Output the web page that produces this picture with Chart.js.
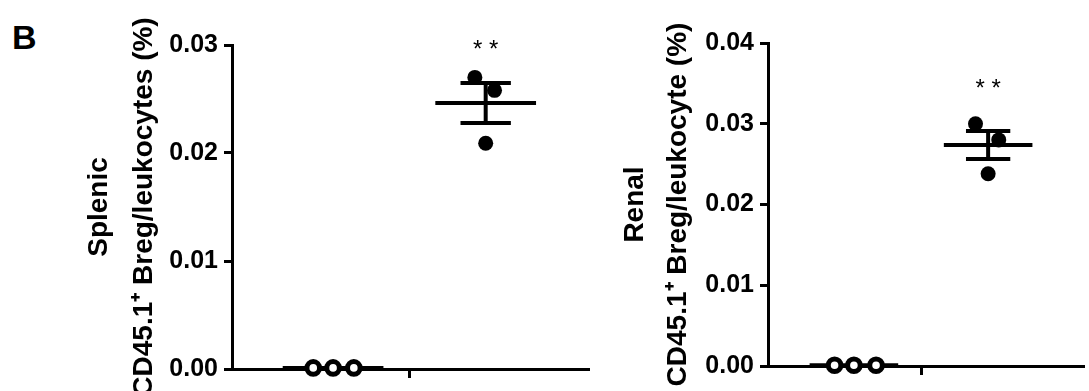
<!DOCTYPE html>
<html>
<head>
<meta charset="utf-8">
<script src="https://cdn.jsdelivr.net/npm/chart.js@4/dist/chart.umd.min.js"></script>
<style>
  html, body { margin: 0; padding: 0; background: #fff; width: 1089px; height: 391px; overflow: hidden; position: relative; }
  canvas { position: absolute; top: 0; }
  #panelLabel { position: absolute; left: 12px; top: 20px; font: bold 34px "Liberation Sans", Arial, sans-serif; line-height: 34px; color: #000; }
</style>
</head>
<body>
<div id="panelLabel">B</div>
<canvas id="spleen" width="600" height="391" style="left:0px"></canvas>
<canvas id="kidney" width="535" height="391" style="left:560px"></canvas>
<script>
// groups on the x axis (1 = control, open circles; 2 = CD45.1 transfer, filled)
const groups = [1, 2];
const xTicks = [1.5];

// Splenic panel
const spleenControl = [0.0001, 0.0001, 0.0001];
const spleenTransfer = [0.0270, 0.0258, 0.0209];
const spleenMean = [0.0001, 0.02463];
const spleenSem = [0, 0.00185];
const spleenJitter1 = [-0.13, 0, 0.136];
const spleenJitter2 = [-0.071, 0.058, 0];
const spleenTicks = [0, 0.01, 0.02, 0.03];
const spleenStar = 0.0299;

// Renal panel
const kidneyControl = [0.0001, 0.0001, 0.0001];
const kidneyTransfer = [0.0300, 0.0280, 0.0238];
const kidneyMean = [0.0001, 0.02737];
const kidneySem = [0, 0.00173];
const kidneyJitter1 = [-0.144, 0, 0.165];
const kidneyJitter2 = [-0.094, 0.079, 0];
const kidneyTicks = [0, 0.01, 0.02, 0.03, 0.04];
const kidneyStar = 0.0348;

const FONT = '"Liberation Sans", Arial, sans-serif';

const sigPlugin = {
  id: 'sig',
  afterDatasetsDraw(chart, args, opts) {
    const { ctx, scales: { x, y } } = chart;
    ctx.save();
    ctx.fillStyle = '#000';
    ctx.font = '24px ' + FONT;
    ctx.textAlign = 'center';
    ctx.textBaseline = 'middle';
    ctx.fillText(opts.text, x.getPixelForValue(opts.x), y.getPixelForValue(opts.y) + 4);
    ctx.restore();
  }
};

function lineSet(data) {
  return { data, showLine: true, borderColor: '#000', borderWidth: 4, pointRadius: 0, borderCapStyle: 'butt', spanGaps: false, clip: false };
}

function makeChart(id, cfg) {
  const gap = g => ({ x: g, y: null });
  const meanData = [];
  const bars = [];
  groups.forEach((g, i) => {
    meanData.push({ x: g - 0.33, y: cfg.mean[i] }, { x: g + 0.33, y: cfg.mean[i] }, gap(g));
    if (!cfg.sem[i]) return;
    const lo = cfg.mean[i] - cfg.sem[i], hi = cfg.mean[i] + cfg.sem[i];
    bars.push({ x: g, y: lo }, { x: g, y: hi }, gap(g),
      { x: g - 0.165, y: hi }, { x: g + 0.165, y: hi }, gap(g),
      { x: g - 0.165, y: lo }, { x: g + 0.165, y: lo }, gap(g));
  });

  return new Chart(document.getElementById(id), {
    type: 'scatter',
    data: {
      datasets: [
        {
          data: cfg.control.map((v, i) => ({ x: groups[0] + cfg.jit1[i], y: v })),
          pointRadius: 6.3, pointBorderWidth: 5, pointBackgroundColor: '#fff', pointBorderColor: '#000', clip: false
        },
        {
          data: cfg.transfer.map((v, i) => ({ x: groups[1] + cfg.jit2[i], y: v })),
          pointRadius: 7.5, pointBorderWidth: 0, pointBackgroundColor: '#000', pointBorderColor: '#000', clip: false
        },
        lineSet(meanData),
        lineSet(bars)
      ]
    },
    options: {
      responsive: false,
      animation: false,
      layout: { padding: { top: cfg.top, right: cfg.right, left: 0, bottom: 0 } },
      plugins: {
        legend: { display: false },
        tooltip: { enabled: false },
        sig: { text: '* *', x: groups[1], y: cfg.star }
      },
      scales: {
        x: {
          type: 'linear', min: cfg.xmin, max: cfg.xmax,
          afterBuildTicks: s => { s.ticks = xTicks.map(v => ({ value: v })); },
          ticks: { display: false },
          grid: { drawOnChartArea: false, tickLength: 9, lineWidth: 3, color: '#000' },
          border: { color: '#000', width: 3 },
          afterFit: s => { s.height = cfg.xh; }
        },
        y: {
          min: 0, max: cfg.ticks[cfg.ticks.length - 1],
          afterBuildTicks: s => { s.ticks = cfg.ticks.map(v => ({ value: v })); },
          ticks: { color: '#000', padding: 6, font: { family: FONT, size: 25, weight: 'bold' }, callback: v => v.toFixed(2) },
          grid: { drawOnChartArea: false, tickLength: 8, lineWidth: 3, color: '#000' },
          border: { color: '#000', width: 3 },
          title: {
            display: true, text: cfg.title, color: '#000',
            font: { family: FONT, size: 28, weight: 'bold', lineHeight: cfg.lh },
            padding: { top: cfg.titlePad, bottom: 0 }
          },
          afterFit: s => { s.width = cfg.yw; }
        }
      }
    },
    plugins: [sigPlugin]
  });
}

makeChart('spleen', {
  control: spleenControl, transfer: spleenTransfer, mean: spleenMean, sem: spleenSem,
  jit1: spleenJitter1, jit2: spleenJitter2, ticks: spleenTicks, star: spleenStar,
  title: ['Splenic', 'CD45.1\u207A Breg/leukocytes (%)'],
  xmin: 0.3377, xmax: 2.675, top: 45, right: 8, xh: 22, yw: 232, lh: '45px', titlePad: 76.5
});

makeChart('kidney', {
  control: kidneyControl, transfer: kidneyTransfer, mean: kidneyMean, sem: kidneySem,
  jit1: kidneyJitter1, jit2: kidneyJitter2, ticks: kidneyTicks, star: kidneyStar,
  title: ['Renal', 'CD45.1\u207A Breg/leukocyte (%)'],
  xmin: 0.36, xmax: 2.712, top: 43, right: 0, xh: 25, yw: 208, lh: '43px', titlePad: 53.5
});
</script>
</body>
</html>
